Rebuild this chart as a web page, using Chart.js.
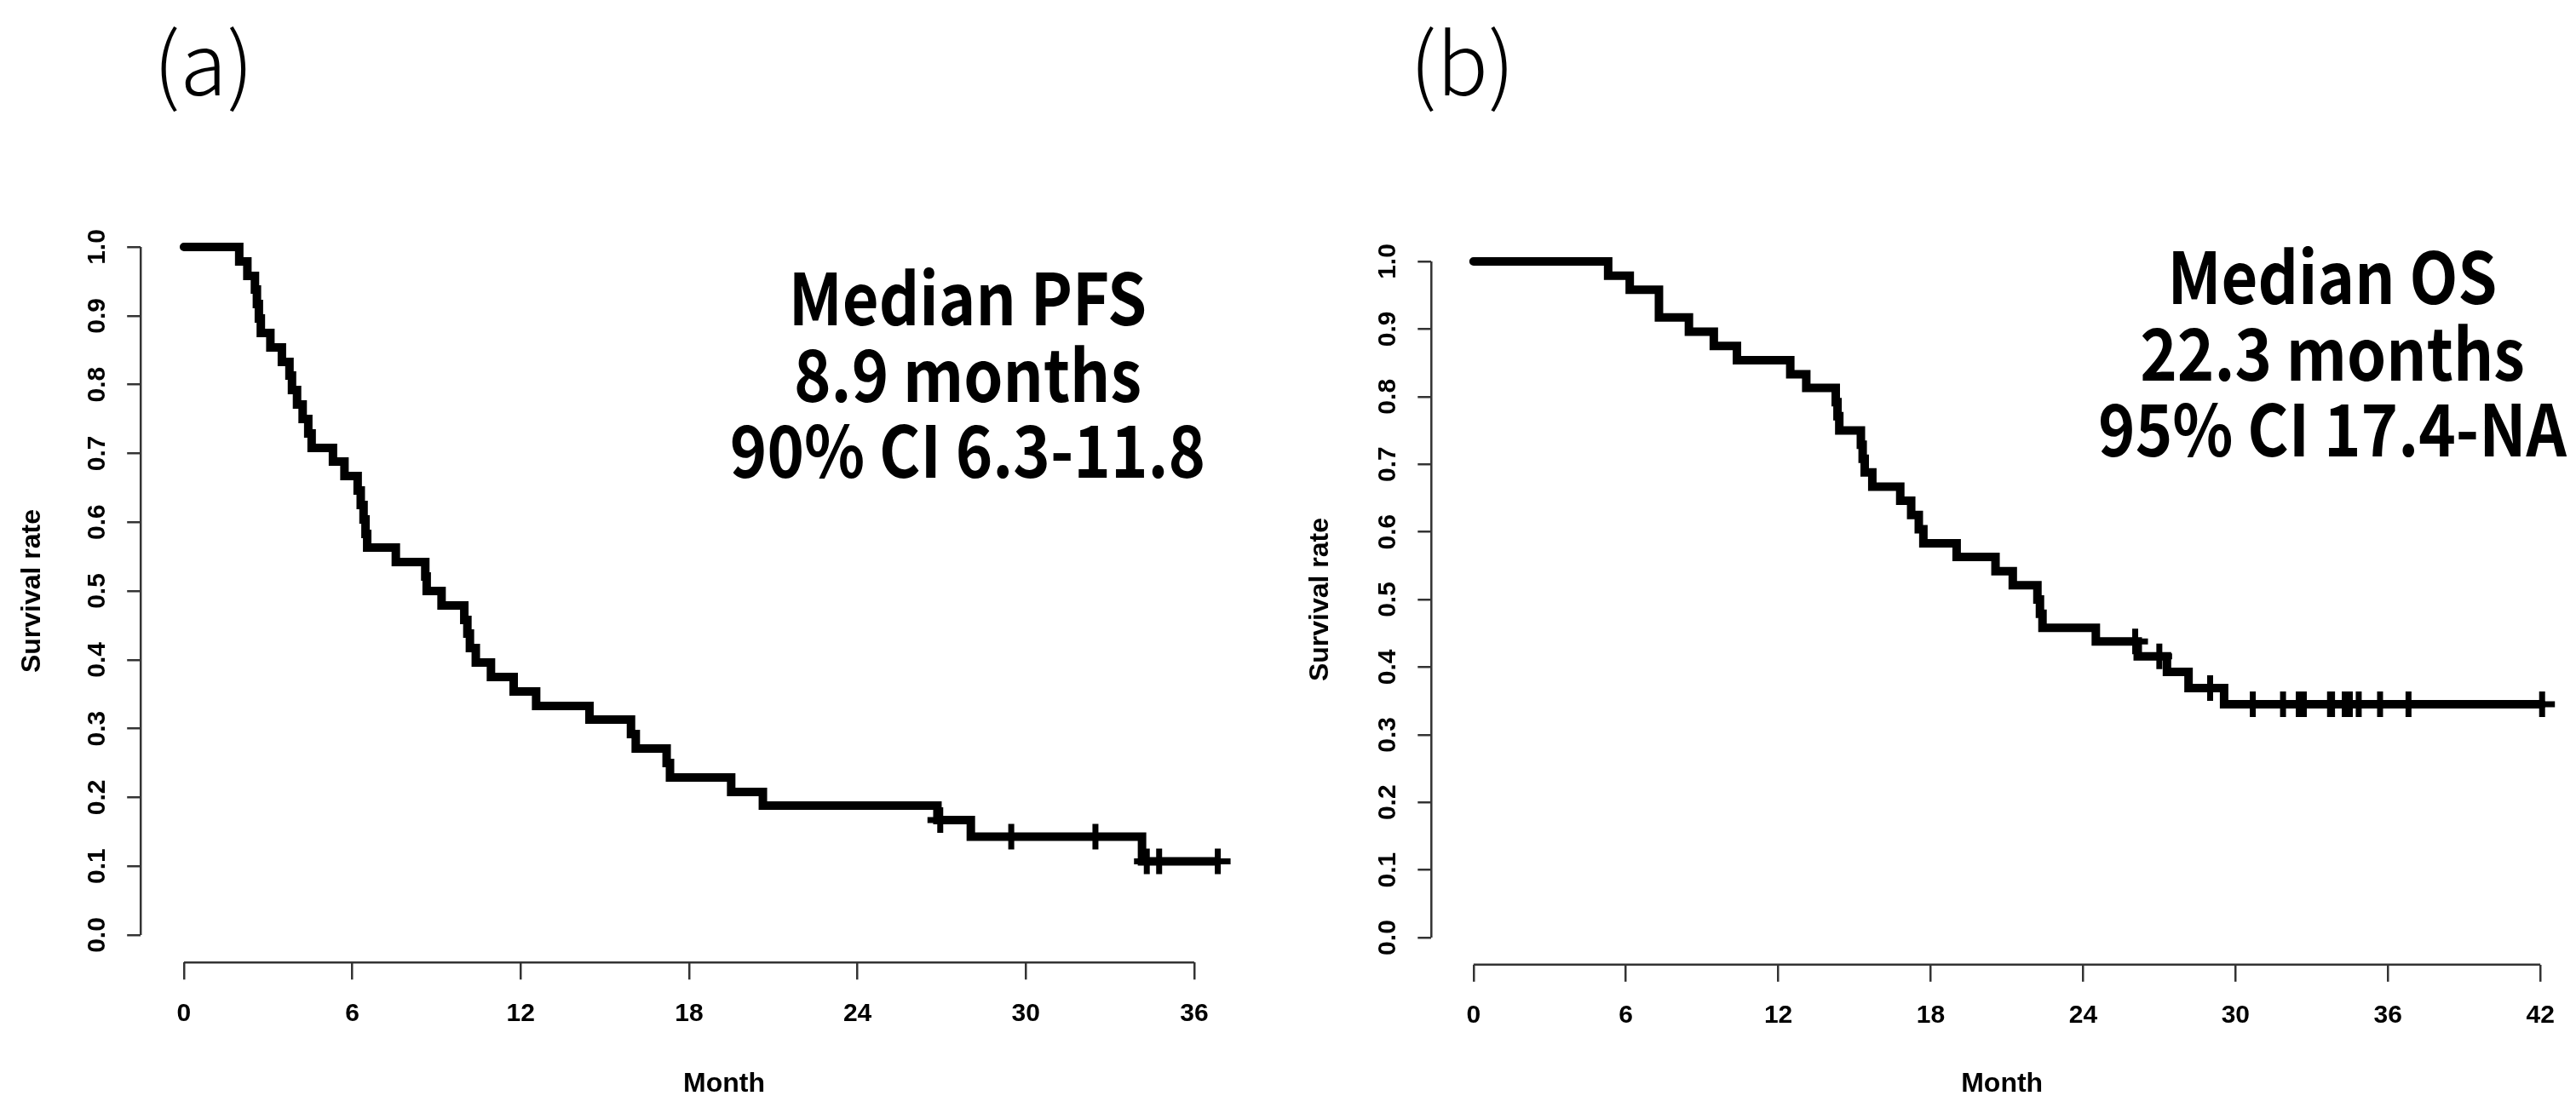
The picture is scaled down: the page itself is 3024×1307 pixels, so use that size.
<!DOCTYPE html>
<html>
<head>
<meta charset="utf-8">
<script src="https://cdn.jsdelivr.net/npm/chart.js@4.4.0/dist/chart.umd.min.js"></script>
<style>
  html, body { margin: 0; padding: 0; background: #fff; }
  body { width: 3024px; height: 1307px; overflow: hidden; position: relative; }
  canvas { position: absolute; top: 0; }
  .panel { position: absolute; font-family: "Noto Sans CJK JP", "Noto Sans", sans-serif; font-weight: 300; font-size: 100px; line-height: 100px; color: #000; white-space: nowrap; }
  .note { position: absolute; font-family: "Noto Sans CJK JP", "Noto Sans", sans-serif; font-weight: 700; font-size: 84px; line-height: 89.5px; color: #000; text-align: center; width: 700px; white-space: nowrap; transform: scaleX(0.88); transform-origin: 50% 50%; }
</style>
</head>
<body>
<canvas id="cR" width="1530" height="1307" style="left:1512px;width:1530px;height:1307px"></canvas>
<canvas id="cL" width="1560" height="1307" style="left:0px;width:1560px;height:1307px"></canvas>
<div class="panel" style="left:180px;top:19px">(a)</div>
<div class="panel" style="left:1655px;top:19px">(b)</div>
<div class="note" style="left:786px;top:301px">Median PFS<br>8.9 months<br>90% CI 6.3-11.8</div>
<div class="note" style="left:2388px;top:276px">Median OS<br>22.3 months<br>95% CI 17.4-NA</div>
<script>
// ---------- data ----------
const pfsTimes = [0, 1.97, 2.26, 2.53, 2.60, 2.67, 2.74, 3.08, 3.49, 3.76, 3.85, 4.03, 4.23, 4.43, 4.55, 5.31, 5.72, 6.19, 6.30, 6.40, 6.47, 6.53, 7.55, 8.60, 8.65, 9.18, 9.99, 10.10, 10.19, 10.40, 10.94, 11.75, 12.55, 14.45, 15.93, 16.10, 17.20, 17.32, 19.50, 20.63, 26.85, 28.04, 34.14, 36.84];
const pfsSurv  = [1, 0.979, 0.958, 0.938, 0.917, 0.896, 0.875, 0.854, 0.833, 0.813, 0.792, 0.771, 0.750, 0.729, 0.708, 0.688, 0.667, 0.646, 0.625, 0.604, 0.583, 0.563, 0.542, 0.521, 0.500, 0.479, 0.458, 0.438, 0.417, 0.396, 0.375, 0.354, 0.333, 0.313, 0.292, 0.271, 0.250, 0.229, 0.208, 0.188, 0.167, 0.143, 0.107, 0.107];
const pfsCensorTimes = [26.95, 29.48, 32.48, 34.31, 34.75, 36.84];
const pfsCensorSurv  = [0.167, 0.143, 0.143, 0.107, 0.107, 0.107];

const osTimes = [0, 5.30, 6.15, 7.30, 8.48, 9.46, 10.37, 12.47, 13.10, 14.26, 14.33, 14.40, 15.25, 15.32, 15.40, 15.70, 16.80, 17.23, 17.53, 17.71, 19.02, 20.55, 21.23, 22.20, 22.30, 22.40, 24.50, 26.15, 27.30, 28.15, 29.55, 42.07];
const osSurv  = [1, 0.979, 0.958, 0.917, 0.896, 0.875, 0.854, 0.833, 0.813, 0.792, 0.771, 0.750, 0.729, 0.708, 0.688, 0.667, 0.646, 0.625, 0.604, 0.583, 0.563, 0.542, 0.521, 0.500, 0.479, 0.458, 0.438, 0.416, 0.393, 0.369, 0.345, 0.345];
const osCensorTimes = [26.05, 27.00, 29.00, 30.68, 31.87, 32.49, 32.69, 33.72, 33.80, 34.30, 34.50, 34.85, 35.69, 36.81, 42.07];
const osCensorSurv  = [0.438, 0.416, 0.369, 0.345, 0.345, 0.345, 0.345, 0.345, 0.345, 0.345, 0.345, 0.345, 0.345, 0.345, 0.345];

const yTickValues = [0, 0.1, 0.2, 0.3, 0.4, 0.5, 0.6, 0.7, 0.8, 0.9, 1.0];
const yTickLabels = ['0.0', '0.1', '0.2', '0.3', '0.4', '0.5', '0.6', '0.7', '0.8', '0.9', '1.0'];
const pfsXTicks = [0, 6, 12, 18, 24, 30, 36];
const osXTicks  = [0, 6, 12, 18, 24, 30, 36, 42];

const xTitle = 'Month';
const yTitle = 'Survival rate';

// ---------- drawing ----------
Chart.defaults.font.family = '"Liberation Sans", Arial, sans-serif';
Chart.defaults.color = '#000';

const AXIS_COLOR = '#333';
const AXIS_WIDTH = 2.5;

const rAxesPlugin = {
  id: 'rAxes',
  beforeDatasetsDraw(chart) {
    const ctx = chart.ctx;
    const xs = chart.scales.x, ys = chart.scales.y;
    const xt = chart.options.plugins.rAxes.xTicks;
    const yt = chart.options.plugins.rAxes.yTicks;
    ctx.save();
    ctx.strokeStyle = AXIS_COLOR;
    ctx.lineWidth = AXIS_WIDTH;
    ctx.lineCap = 'butt';
    ctx.beginPath();
    const ax = chart.chartArea.left;
    ctx.moveTo(ax, ys.getPixelForValue(yt[0]));
    ctx.lineTo(ax, ys.getPixelForValue(yt[yt.length - 1]));
    const ay = chart.chartArea.bottom;
    ctx.moveTo(xs.getPixelForValue(xt[0]), ay);
    ctx.lineTo(xs.getPixelForValue(xt[xt.length - 1]), ay);
    ctx.stroke();
    ctx.restore();
  }
};

function toPoints(xArr, yArr) { return xArr.map((x, i) => ({ x: x, y: yArr[i] })); }

function makeChart(id, cfg) {
  return new Chart(document.getElementById(id), {
    type: 'scatter',
    data: {
      datasets: [
        {
          data: toPoints(cfg.times, cfg.surv),
          showLine: true,
          stepped: true,
          borderColor: '#000',
          borderWidth: 10,
          borderCapStyle: 'round',
          borderJoinStyle: 'miter',
          pointRadius: 0,
          pointHoverRadius: 0,
          fill: false
        },
        {
          data: toPoints(cfg.cTimes, cfg.cSurv),
          showLine: false,
          pointStyle: 'cross',
          pointRadius: 15,
          pointBorderWidth: 7,
          pointBorderColor: '#000',
          borderColor: '#000'
        }
      ]
    },
    options: {
      responsive: false,
      devicePixelRatio: 1,
      animation: false,
      events: [],
      layout: { padding: { left: 0, top: cfg.padTop, right: cfg.padRight, bottom: 0 } },
      plugins: {
        legend: { display: false },
        tooltip: { enabled: false },
        rAxes: { xTicks: cfg.xTicks, yTicks: yTickValues }
      },
      scales: {
        x: {
          type: 'linear',
          position: 'bottom',
          min: cfg.xMin,
          max: cfg.xMax,
          afterBuildTicks: s => { s.ticks = cfg.xTicks.map(v => ({ value: v })); },
          afterFit: s => { s.height = cfg.xAxisH; },
          border: { display: false },
          grid: { display: true, drawOnChartArea: false, drawTicks: true, tickLength: 20, color: AXIS_COLOR, lineWidth: AXIS_WIDTH },
          ticks: { autoSkip: false, maxRotation: 0, minRotation: 0, padding: 22, font: { size: 30, weight: 'bold' }, callback: (v, i) => String(cfg.xTicks[i]) },
          title: { display: true, text: xTitle, font: { size: 32, weight: 'bold' }, padding: { top: 0, bottom: 15 } }
        },
        y: {
          type: 'linear',
          position: 'left',
          min: -0.04,
          max: 1.04,
          afterBuildTicks: s => { s.ticks = yTickValues.map(v => ({ value: v })); },
          afterFit: s => { s.width = cfg.yAxisW; },
          border: { display: false },
          grid: { display: true, drawOnChartArea: false, drawTicks: true, tickLength: 16, color: AXIS_COLOR, lineWidth: AXIS_WIDTH },
          ticks: { autoSkip: false, minRotation: 90, maxRotation: 90, crossAlign: 'center', padding: 14, font: { size: 30, weight: 'bold' }, callback: (v, i) => yTickLabels[i] },
          title: { display: true, text: yTitle, font: { size: 32, weight: 'bold' }, padding: { top: 19, bottom: 0 } }
        }
      }
    },
    plugins: [rAxesPlugin]
  });
}

makeChart('cL', {
  times: pfsTimes, surv: pfsSurv, cTimes: pfsCensorTimes, cSurv: pfsCensorSurv,
  xTicks: pfsXTicks, xMin: -1.54, xMax: 40.04,
  padTop: 257.7, padRight: 25, xAxisH: 176.7, yAxisW: 165.2
});

makeChart('cR', {
  times: osTimes, surv: osSurv, cTimes: osCensorTimes, cSurv: osCensorSurv,
  xTicks: osXTicks, xMin: -1.66, xMax: 43.27,
  padTop: 275.2, padRight: 16, xAxisH: 174.2, yAxisW: 168.3
});
</script>
</body>
</html>
